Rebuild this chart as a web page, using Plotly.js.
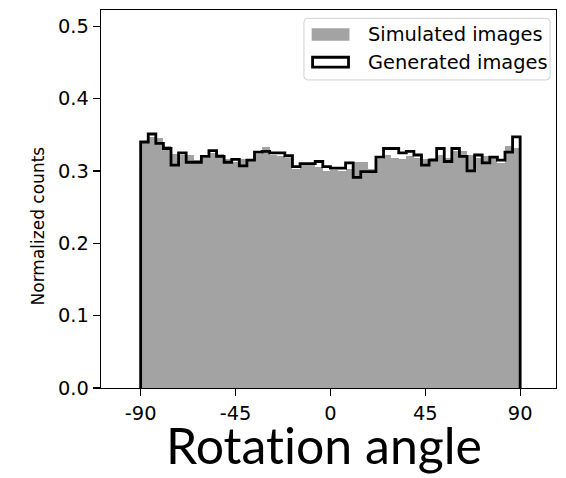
<!DOCTYPE html>
<html>
<head>
<meta charset="utf-8">
<script src="https://cdn.plot.ly/plotly-3.0.1.min.js"></script>
<style>
  html, body { margin: 0; padding: 0; background: #ffffff; }
  #chart { width: 566px; height: 478px; }
  #chart text { font-variant-ligatures: none; font-feature-settings: "liga" 0, "clig" 0; }
</style>
</head>
<body>
<div id="chart"></div>
<script>
// Histogram of rotation angles: 50 bins spanning -90..90 degrees
const angleMin = -90;
const angleMax = 90;
const binCount = 50;

// Normalized counts per bin, left to right
const simulated = [
  0.340, 0.347, 0.345, 0.334, 0.323, 0.322, 0.322, 0.315, 0.318, 0.325,
  0.324, 0.316, 0.313, 0.317, 0.316, 0.324, 0.333, 0.322, 0.320, 0.318,
  0.303, 0.310, 0.308, 0.306, 0.300, 0.301, 0.300, 0.302, 0.313, 0.313,
  0.303, 0.316, 0.322, 0.318, 0.316, 0.320, 0.318, 0.316, 0.318, 0.322,
  0.318, 0.328, 0.328, 0.322, 0.318, 0.320, 0.318, 0.311, 0.334, 0.332
];
const generated = [
  0.340, 0.351, 0.338, 0.331, 0.308, 0.325, 0.312, 0.312, 0.320, 0.328,
  0.320, 0.312, 0.316, 0.307, 0.315, 0.326, 0.327, 0.325, 0.325, 0.321,
  0.306, 0.310, 0.310, 0.313, 0.306, 0.304, 0.304, 0.311, 0.291, 0.299,
  0.299, 0.319, 0.331, 0.331, 0.325, 0.327, 0.322, 0.308, 0.315, 0.331,
  0.313, 0.331, 0.320, 0.300, 0.322, 0.311, 0.319, 0.315, 0.326, 0.347
];

const xTicks = [-90, -45, 0, 45, 90];
const yTicks = [0.0, 0.1, 0.2, 0.3, 0.4, 0.5];
const legendLabels = ['Simulated images', 'Generated images'];
// zero-width non-joiner keeps "t" and "i" as separate glyphs
const xTitle = 'Rotat\u200Cion angle';
const yTitle = 'Normalized counts';

const binWidth = (angleMax - angleMin) / binCount;
const centers = simulated.map((_, i) => angleMin + binWidth * (i + 0.5));

// Step outline for the generated histogram (closed down to zero at both ends)
const stepX = [angleMin];
const stepY = [0];
generated.forEach((v, i) => { stepX.push(angleMin + binWidth * i); stepY.push(v); });
stepX.push(angleMax); stepY.push(generated[generated.length - 1]);
stepX.push(angleMax); stepY.push(0);

const tickFont = { family: 'DejaVu Sans', size: 19.4, color: '#000000' };

const traces = [
  {
    type: 'bar',
    x: centers,
    y: simulated,
    width: binWidth,
    marker: { color: '#a3a3a3', line: { width: 0 } },
    showlegend: false,
    hoverinfo: 'x+y'
  },
  {
    type: 'scatter',
    mode: 'lines',
    x: stepX,
    y: stepY,
    line: { color: '#000000', width: 2.8, shape: 'hv' },
    showlegend: false,
    hoverinfo: 'x+y'
  }
];

// Legend frame: rounded rectangle in paper coordinates
function roundedRect(x0, y0, x1, y1, rx, ry) {
  return `M ${x0 + rx},${y0} L ${x1 - rx},${y0} Q ${x1},${y0} ${x1},${y0 + ry} ` +
         `L ${x1},${y1 - ry} Q ${x1},${y1} ${x1 - rx},${y1} L ${x0 + rx},${y1} ` +
         `Q ${x0},${y1} ${x0},${y1 - ry} L ${x0},${y0 + ry} Q ${x0},${y0} ${x0 + rx},${y0} Z`;
}

const layout = {
  width: 566,
  height: 478,
  margin: { l: 101, r: 10, t: 10, b: 90 },
  paper_bgcolor: '#ffffff',
  plot_bgcolor: '#ffffff',
  bargap: 0,
  showlegend: false,
  xaxis: {
    range: [-108.8, 107.0],
    tickmode: 'array',
    tickvals: xTicks,
    ticktext: xTicks.map(String),
    ticks: 'outside',
    ticklen: 7,
    tickwidth: 1.3,
    tickcolor: '#000000',
    tickfont: tickFont,
    showgrid: false,
    zeroline: false,
    showline: true,
    mirror: true,
    linecolor: '#000000',
    linewidth: 1.3
  },
  yaxis: {
    range: [0, 0.5224],
    tickmode: 'array',
    tickvals: yTicks,
    ticktext: yTicks.map(v => v.toFixed(1)),
    ticks: 'outside',
    ticklen: 7,
    tickwidth: 1.3,
    tickcolor: '#000000',
    tickfont: tickFont,
    showgrid: false,
    zeroline: false,
    showline: true,
    mirror: true,
    linecolor: '#000000',
    linewidth: 1.3
  },
  shapes: [
    {
      type: 'path', xref: 'paper', yref: 'paper',
      path: roundedRect(0.446, 0.815, 0.987, 0.978, 0.008, 0.01),
      line: { color: '#d0d0d0', width: 1 },
      fillcolor: 'rgba(255,255,255,0.85)'
    },
    {
      type: 'rect', xref: 'paper', yref: 'paper',
      x0: 0.463, x1: 0.546, y0: 0.9187, y1: 0.9516,
      line: { width: 0 }, fillcolor: '#a3a3a3'
    },
    {
      type: 'rect', xref: 'paper', yref: 'paper',
      x0: 0.465, x1: 0.544, y0: 0.849, y1: 0.875,
      line: { color: '#000000', width: 2.8 }, fillcolor: '#ffffff'
    }
  ],
  annotations: [
    {
      xref: 'paper', yref: 'paper', x: 0.582, y: 0.935,
      xanchor: 'left', yanchor: 'middle', showarrow: false,
      text: legendLabels[0], font: tickFont
    },
    {
      xref: 'paper', yref: 'paper', x: 0.582, y: 0.862,
      xanchor: 'left', yanchor: 'middle', showarrow: false,
      text: legendLabels[1], font: tickFont
    },
    {
      xref: 'paper', yref: 'paper', x: -0.1385, y: 0.43,
      xanchor: 'center', yanchor: 'middle', showarrow: false,
      textangle: -90, text: yTitle,
      font: { family: 'DejaVu Sans', size: 17, color: '#000000' }
    },
    {
      // line box trimmed at the top so it starts just above the capitals
      xref: 'paper', yref: 'paper', x: 0.4906, y: -0.0875,
      xanchor: 'center', yanchor: 'top', showarrow: false,
      height: 52, valign: 'bottom',
      text: xTitle,
      font: { family: 'Lato', size: 50, color: '#000000' }
    }
  ]
};

Plotly.newPlot('chart', traces, layout, { staticPlot: true, displayModeBar: false });
</script>
</body>
</html>
